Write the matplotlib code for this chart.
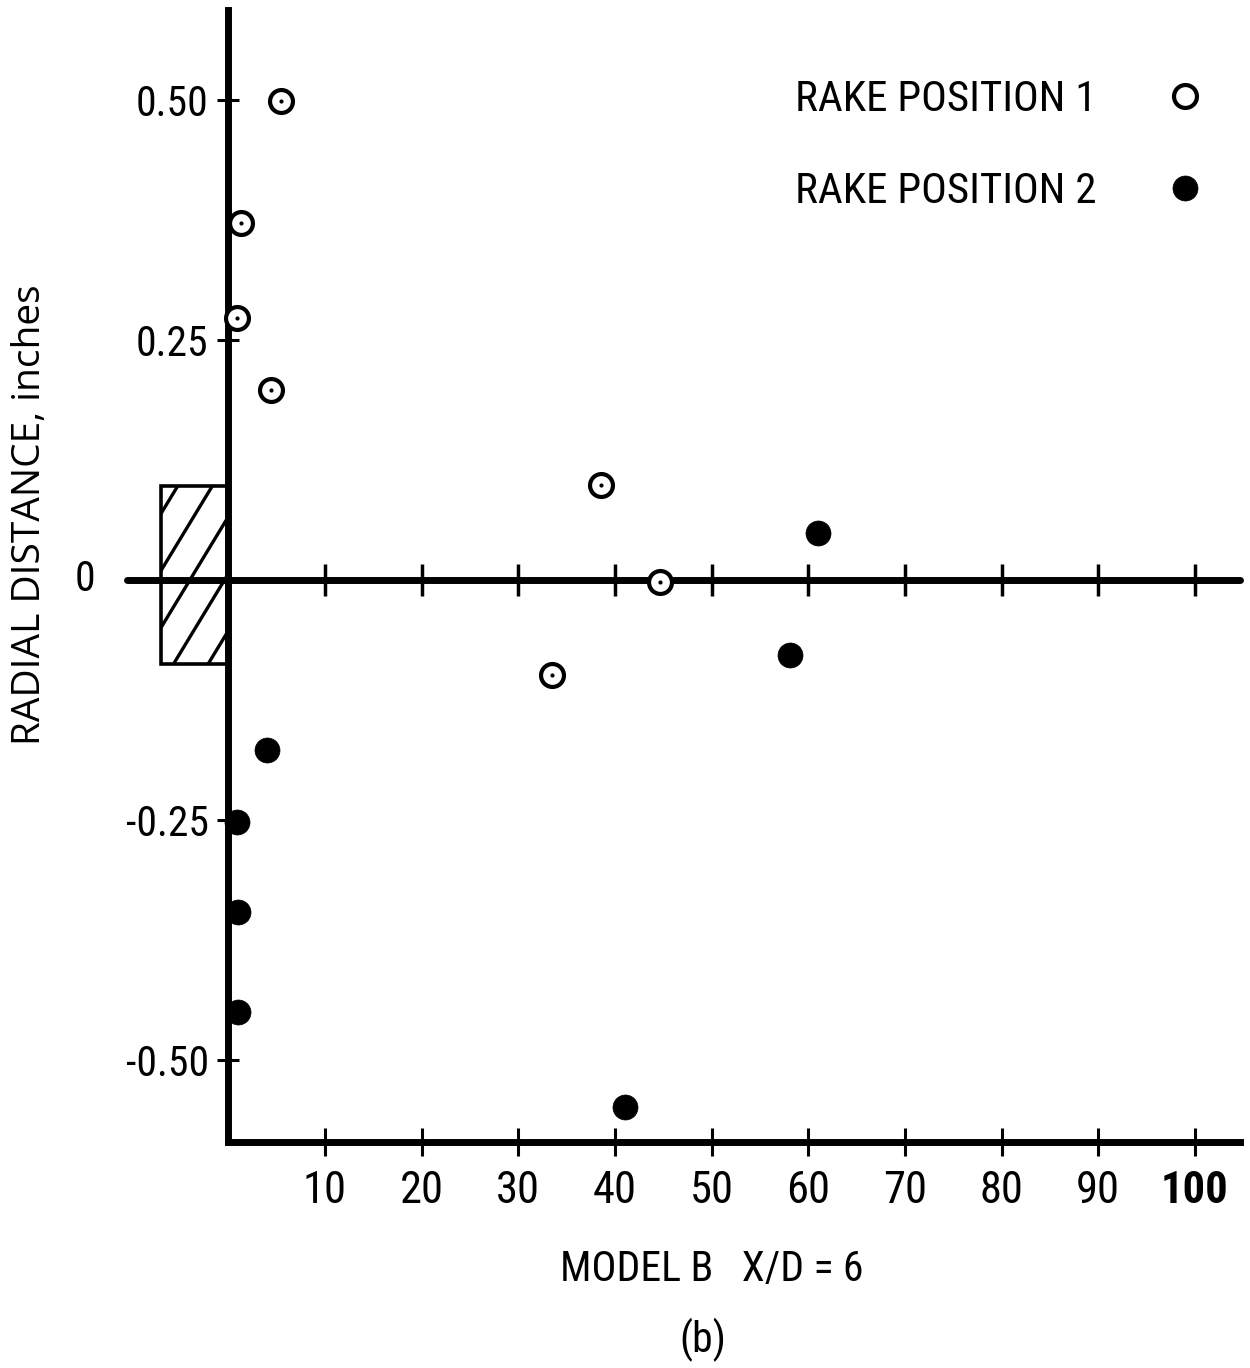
import matplotlib.pyplot as plt
from matplotlib.patches import Rectangle
import numpy as np

# rake survey points, x in model diameters downstream, y radial distance (in)
rake1_x = [5.5, 1.3, 0.9, 4.4, 38.6, 44.7, 33.5]
rake1_y = [0.499, 0.372, 0.273, 0.198, 0.099, -0.002, -0.099]
rake2_x = [61.0, 58.1, 4.0, 0.9, 1.07, 1.07, 41.1]
rake2_y = [0.049, -0.078, -0.177, -0.252, -0.346, -0.450, -0.549]

x_ticks = [10, 20, 30, 40, 50, 60, 70, 80, 90, 100]
y_ticks = [-0.50, -0.25, 0.25, 0.50]
y_labels = ['-0.50', '-0.25', '0.25', '0.50']

# model body drawn at the origin
body_len = 6.9
body_top = 0.098
body_bot = -0.088

cond = ['Liberation Sans Narrow', 'Roboto Condensed', 'DejaVu Sans']
cfont = dict(family=cond, stretch='condensed')

fig = plt.figure(figsize=(12.5, 13.68), dpi=100)
ax = fig.add_axes([0, 0, 1, 1])
ax.set_xlim(-23.6, 105.7)
ax.set_ylim(-0.821, 0.604)
ax.patch.set_alpha(0)

x_end = 104.7
y_bottom = -0.586
y_top = 0.594

for s in ['top', 'right']:
    ax.spines[s].set_visible(False)
ax.spines['left'].set_position(('data', 0))
ax.spines['left'].set_bounds(y_bottom, y_top)
ax.spines['bottom'].set_position(('data', y_bottom))
ax.spines['bottom'].set_bounds(0, x_end)
for s in ['left', 'bottom']:
    ax.spines[s].set_linewidth(5)
    ax.spines[s].set_capstyle('projecting')

ax.set_xticks(x_ticks)
ax.set_xticklabels([str(t) for t in x_ticks], fontsize=32, **cfont)
ax.get_xticklabels()[-1].set_fontweight('bold')
ax.set_yticks(y_ticks)
ax.set_yticklabels(y_labels, fontsize=30, **cfont)
ax.tick_params(axis='x', direction='inout', length=20, width=2.2, pad=10)
ax.tick_params(axis='y', direction='inout', length=16, width=2.2, pad=6)
ax.text(-14.8, 0, '0', fontsize=30, ha='center', va='center', **cfont)

# centreline with its own tick marks
ax.plot([-10.5, x_end], [0, 0], color='black', lw=5, solid_capstyle='round', zorder=2)
ax.plot(x_ticks, np.zeros(len(x_ticks)), ls='none', marker='|', ms=23, mew=2.5,
        color='black', zorder=2)

# hatched body
rect = Rectangle((-body_len, body_bot), body_len, body_top - body_bot,
                 fill=False, ec='black', lw=2.6, zorder=3)
ax.add_patch(rect)
slope = 0.0166
for c in 0.0698 - 0.0594 * np.arange(-1, 6):
    xs = np.array([-body_len, 0])
    ln, = ax.plot(xs, c + slope * (xs + body_len), color='black', lw=2.4, zorder=3)
    ln.set_clip_path(rect)

ax.plot(rake1_x, rake1_y, ls='none', marker='o', ms=16.5, mew=3, mfc='white',
        mec='black', label='RAKE POSITION 1', zorder=4)
ax.plot(rake1_x, rake1_y, ls='none', marker='o', ms=3, mew=0, color='black', zorder=5)
ax.plot(rake2_x, rake2_y, ls='none', marker='o', ms=18, mew=0.5, color='black',
        label='RAKE POSITION 2', zorder=4)

ax.legend(loc='upper left', bbox_to_anchor=(795 / 1250, 1 - 79 / 1368),
          bbox_transform=fig.transFigure, frameon=False, markerfirst=False,
          prop=dict(size=31, **cfont), handlelength=1.0, handletextpad=1.55,
          labelspacing=1.18, borderpad=0, borderaxespad=0)

fig.text(30 / 1250, 1 - 515 / 1368, 'RADIAL DISTANCE, inches', rotation=90,
         family='Open Sans', fontsize=28, ha='center', va='center')
fig.text(712 / 1250, 1 - 1270 / 1368, 'MODEL B   X/D = 6', fontsize=30,
         ha='center', va='center', **cfont)
fig.text(703 / 1250, 1 - 1340 / 1368, '(b)', fontsize=30,
         ha='center', va='center', **cfont)

fig.savefig('out.png', dpi=100, facecolor='white')
